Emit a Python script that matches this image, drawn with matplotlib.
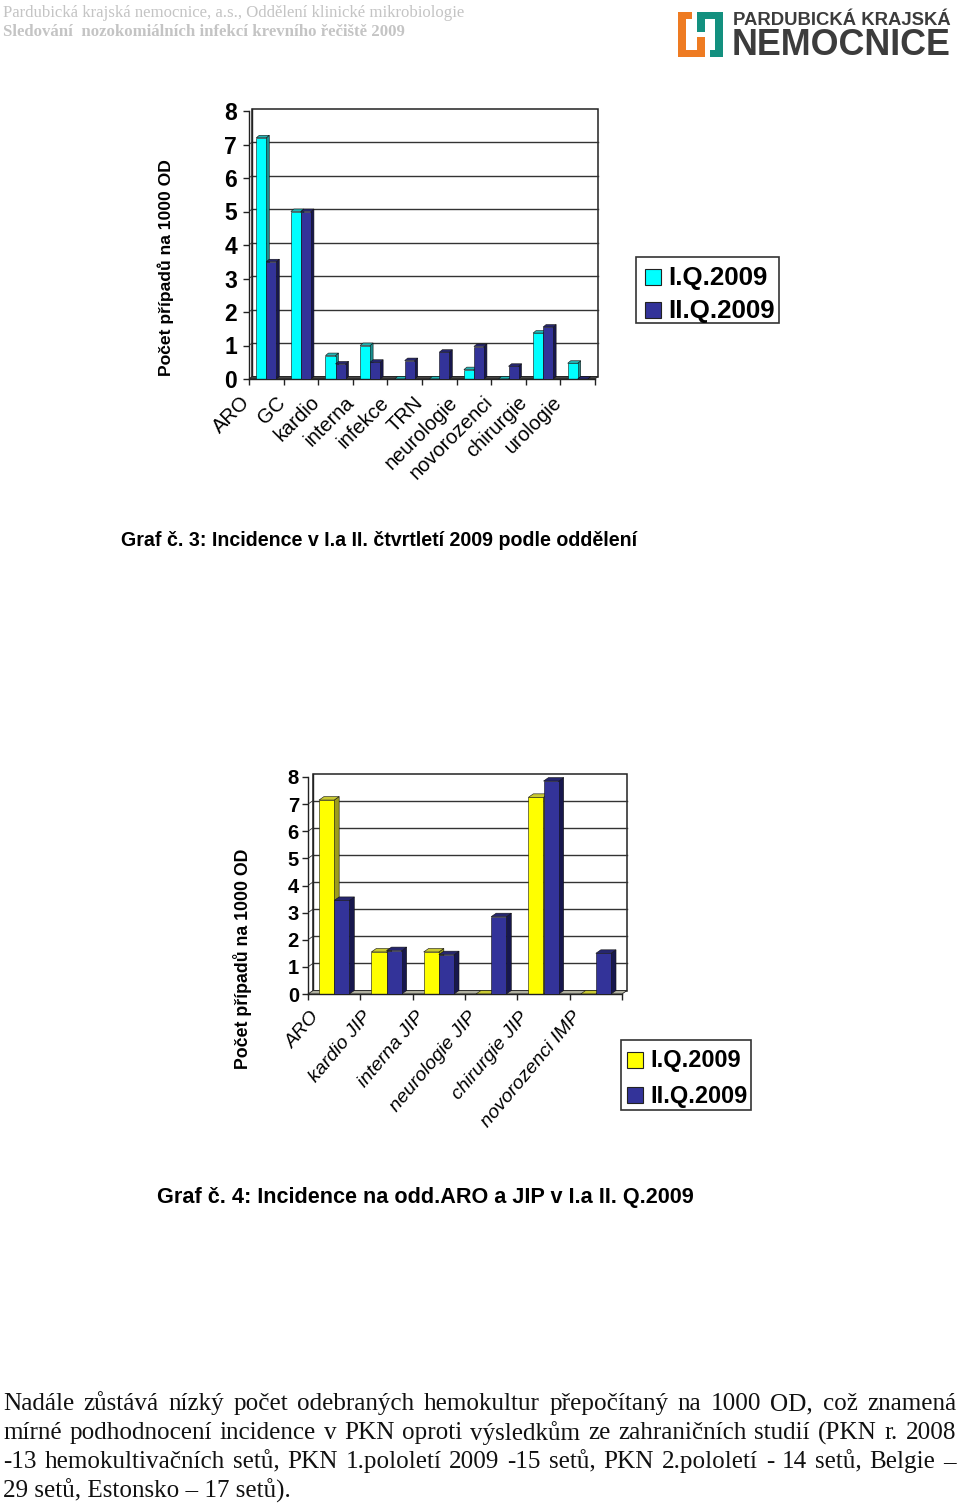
import matplotlib
matplotlib.use('Agg')
import matplotlib.pyplot as plt
from matplotlib.patches import Polygon, Rectangle

W, H = 960, 1505

# graf 3
cats3 = ['ARO', 'GC', 'kardio', 'interna', 'infekce', 'TRN', 'neurologie', 'novorozenci', 'chirurgie', 'urologie']
q1_3 = [7.2, 5.0, 0.7, 1.0, 0, 0, 0.28, 0, 1.37, 0.47]
q2_3 = [3.5, 5.0, 0.45, 0.5, 0.55, 0.8, 0.97, 0.38, 1.55, 0]

# graf 4
cats4 = ['ARO', 'kardio JIP', 'interna JIP', 'neurologie JIP', 'chirurgie JIP', 'novorozenci IMP']
q1_4 = [7.15, 1.55, 1.55, 0, 7.25, 0]
q2_4 = [3.45, 1.6, 1.45, 2.85, 7.85, 1.5]

yticks = list(range(9))
legend_names = ['I.Q.2009', 'II.Q.2009']

CYAN, CYAN_TOP, CYAN_SIDE = '#00ffff', '#21b5b5', '#1a8f8f'
YEL, YEL_TOP, YEL_SIDE = '#ffff00', '#c9c933', '#9c9c1e'
BLUE, BLUE_TOP, BLUE_SIDE = '#333399', '#26266e', '#17174d'

fig = plt.figure(figsize=(W / 100, H / 100), dpi=100)


def px_axes(l, t, r, b):
    return fig.add_axes([l / W, 1 - b / H, (r - l) / W, (b - t) / H])


def chart(box, depth, cats, s1, s2, cols1, cols2, wd, ytick_font, floor):
    l, t, r, b = box
    ax = px_axes(l, t, r, b)
    n = len(cats)
    ax.set_xlim(0, n)
    ax.set_ylim(0, 8)
    dx = depth[0] * n / (r - l)
    dy = depth[1] * 8 / (b - t)
    ax.patch.set_alpha(0)
    for s in ['top', 'right']:
        ax.spines[s].set_visible(False)
    for s in ['left', 'bottom']:
        ax.spines[s].set_linewidth(1.0)
        ax.spines[s].set_color('#222222')
    # stena grafu
    ax.add_patch(Polygon([(dx, dy), (n + dx, dy), (n + dx, 8 + dy), (dx, 8 + dy)], fc='white', ec='#222222', lw=1.1, clip_on=False, zorder=0))
    for v in yticks[1:-1]:
        ax.plot([dx, n + dx], [v + dy, v + dy], color='#333333', lw=1.0, clip_on=False, zorder=1)
        ax.plot([0, dx], [v, v + dy], color='#333333', lw=0.6, zorder=1)
    ax.plot([dx, dx], [dy, 8 + dy], color='#222222', lw=1.0, clip_on=False, zorder=1)
    ax.add_patch(Polygon([(0, 0), (dx, dy), (n + dx, dy), (n, 0)], fc=floor, ec='#222222', lw=0.6, zorder=1, clip_on=False))
    for i in range(n):
        x0 = i + 0.5 - wd
        for j, (v, cols) in enumerate(((s1[i], cols1), (s2[i], cols2))):
            bx = x0 + j * wd
            ax.add_patch(Polygon([(bx + wd, 0), (bx + wd + dx, dy), (bx + wd + dx, v + dy), (bx + wd, v)], fc=cols[2], ec='#111111', lw=0.4, zorder=2 + j))
            ax.add_patch(Polygon([(bx, v), (bx + dx, v + dy), (bx + wd + dx, v + dy), (bx + wd, v)], fc=cols[1], ec='#111111', lw=0.4, zorder=2 + j))
            if v > 0:
                ax.bar(bx, v, wd, align='edge', color=cols[0], edgecolor='#111111', lw=0.4, zorder=2 + j)
    ax.set_yticks(yticks)
    ax.set_yticklabels([str(v) for v in yticks], **ytick_font)
    ax.set_xticks(range(n + 1))
    ax.set_xticklabels([])
    ax.tick_params(axis='both', length=4, width=1, color='#222222', pad=4.5)
    return ax


arial = 'Liberation Sans'
ax3 = chart((249, 111, 595, 379), (3, 2.5), cats3, q1_3, q2_3, (CYAN, CYAN_TOP, CYAN_SIDE), (BLUE, BLUE_TOP, BLUE_SIDE), 0.29,
            dict(family=arial, weight='bold', fontsize=16.5), '#444444')
ax4 = chart((308, 777, 622, 994), (5, 3.5), cats4, q1_4, q2_4, (YEL, YEL_TOP, YEL_SIDE), (BLUE, BLUE_TOP, BLUE_SIDE), 0.29,
            dict(family=arial, weight='bold', fontsize=14.5), '#b0b0a0')
ax4.tick_params(axis='y', pad=2.5)

for i, c in enumerate(cats3):
    ax3.annotate(c, (i + 0.5, 0), xytext=(-18.5, -10), textcoords='offset points', rotation=45, ha='right', va='top',
                 rotation_mode='anchor', family=arial, fontsize=14.5)
for i, c in enumerate(cats4):
    ax4.annotate(c, (i + 0.5, 0), xytext=(-17.5, -10.5), textcoords='offset points', rotation=50, ha='right', va='top',
                 rotation_mode='anchor', family=arial, fontsize=14, style='italic')


def txt(x, y, s, **kw):
    kw.setdefault('family', arial)
    return fig.text(x / W, 1 - y / H, s, **kw)


txt(166, 268, 'Počet případů na 1000 OD', rotation=90, ha='center', va='center', fontsize=12.6, weight='bold')
txt(243, 959, 'Počet případů na 1000 OD', rotation=90, ha='center', va='center', fontsize=12.8, weight='bold')
txt(121, 541, 'Graf č. 3: Incidence v I.a II. čtvrtletí 2009 podle oddělení', va='center', fontsize=14.1, weight='bold')
txt(157, 1197, 'Graf č. 4: Incidence na odd.ARO a JIP v I.a II. Q.2009', va='center', fontsize=15.6, weight='bold')


def legend(box, color1, labels, sw, fs, rows):
    l, t, r, b = box
    fig.add_artist(Rectangle((l / W, 1 - b / H), (r - l) / W, (b - t) / H, transform=fig.transFigure, fc='white', ec='#333333', lw=1.2))
    for (lab, c, y) in zip(labels, (color1, BLUE), rows):
        fig.add_artist(Rectangle((sw[0] / W, 1 - (y + sw[1] / 2) / H), sw[1] / W, sw[1] / H, transform=fig.transFigure, fc=c, ec='#222222', lw=0.8))
        txt(sw[0] + sw[1] + 7, y + 1, lab, va='center', fontsize=fs, weight='bold')


legend((636, 257, 779, 323), CYAN, legend_names, (645, 16), 18.6, (277, 310))
legend((621, 1040, 751, 1110), YEL, legend_names, (627, 16), 16.9, (1060, 1095))

# hlavicka
txt(3, 13, 'Pardubická krajská nemocnice, a.s., Oddělení klinické mikrobiologie', family='Liberation Serif', fontsize=12.07, color='#c4c4c4', va='center')
txt(3, 32, 'Sledování  nozokomiálních infekcí krevního řečiště 2009', family='Liberation Serif', fontsize=12.1, color='#c4c4c4', va='center', weight='bold')

# logo
txt(733, 25, 'PARDUBICKÁ KRAJSKÁ', fontsize=13.3, weight='bold', color='#3c3c3c', va='baseline')
txt(732, 55, 'NEMOCNICE', fontsize=25.8, weight='bold', color='#3c3c3c', va='baseline')
logo = fig.add_axes([0, 0, 1, 1], zorder=-1)
logo.set_xlim(0, W)
logo.set_ylim(H, 0)
logo.axis('off')
logo.add_patch(Polygon([(678, 12), (692, 12), (692, 19), (686, 19), (686, 50), (697, 50), (697, 37), (705, 37), (705, 57), (678, 57)], fc='#ee7b22', ec='none'))
logo.add_patch(Polygon([(697, 12), (723, 12), (723, 57), (710, 57), (710, 50), (715, 50), (715, 19), (705, 19), (705, 32), (697, 32)], fc='#13907f', ec='none'))

# odstavec - prvni tri radky do bloku
lines = [
    ('Nadále zůstává nízký počet odebraných hemokultur přepočítaný na 1000 OD, což znamená', 1404, True),
    ('mírné podhodnocení incidence v PKN oproti výsledkům ze zahraničních studií (PKN r. 2008', 1433, True),
    ('-13 hemokultivačních setů, PKN 1.pololetí 2009 -15 setů,  PKN 2.pololetí - 14 setů, Belgie –', 1462, True),
    ('29 setů, Estonsko – 17 setů).', 1491, False),
]
renderer = fig.canvas.get_renderer()
body = dict(family='Liberation Serif', fontsize=18.1, va='center', color='#111111')
for s, y, just in lines:
    if not just:
        txt(3, y, s, **body)
        continue
    words = [txt(3, y, w, **body) for w in s.split()]
    widths = [t.get_window_extent(renderer).width for t in words]
    gap = (956 - 3 - sum(widths)) / (len(words) - 1)
    x = 3
    for t, w in zip(words, widths):
        t.set_x(x / W)
        x += w + gap

fig.savefig('out.png', dpi=100)
